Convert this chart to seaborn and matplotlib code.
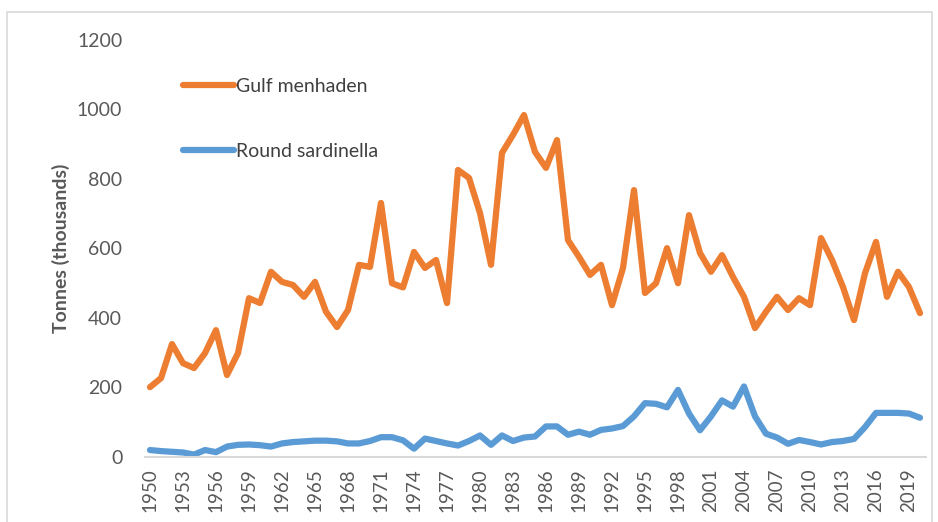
import numpy as np
import pandas as pd
import matplotlib
matplotlib.use("Agg")
import matplotlib.pyplot as plt
import seaborn as sns
from matplotlib.patches import Rectangle

## Data ##
years = list(range(1950, 2021))

gulf_menhaden = [
    201, 227, 325, 270, 256, 299, 365, 236, 299, 457,
    443, 533, 504, 495, 461, 504, 418, 374, 423, 553,
    547, 731, 500, 488, 590, 544, 567, 443, 826, 803,
    702, 553, 875, 927, 984, 878, 832, 912, 624, 576,
    524, 553, 437, 544, 768, 472, 500, 601, 500, 696,
    587, 533, 581, 518, 461, 371, 418, 461, 423, 457,
    437, 630, 567, 489, 394, 529, 619, 461, 533, 489,
    414,
]

round_sardinella = [
    20, 17, 15, 13, 7, 20, 14, 30, 35, 36,
    34, 30, 39, 43, 45, 47, 47, 45, 39, 39,
    46, 57, 57, 48, 24, 53, 46, 39, 33, 46,
    62, 35, 62, 46, 56, 59, 88, 88, 64, 73,
    64, 78, 82, 89, 117, 155, 153, 143, 193, 125,
    77, 117, 163, 145, 203, 117, 67, 56, 38, 49,
    43, 36, 43, 46, 52, 86, 127, 127, 127, 125,
    113,
]

series_names = ["Gulf menhaden", "Round sardinella"]
series_colors = ["#ED7D31", "#5B9BD5"]
x_ticks = list(range(1950, 2021, 3))
y_ticks = [0, 200, 400, 600, 800, 1000, 1200]

df = pd.DataFrame({
    "Year": years * 2,
    "Tonnes": gulf_menhaden + round_sardinella,
    "Species": [series_names[0]] * len(years) + [series_names[1]] * len(years),
})

## Plot ##
sns.set_style("white")
plt.rcParams["font.family"] = ["Lato", "DejaVu Sans"]

W, H = 938, 522
fig = plt.figure(figsize=(W / 100, H / 100), dpi=100)
ax = fig.add_axes([144.5 / W, 1 - 457 / H, (925.5 - 144.5) / W, (457 - 40) / H])

sns.lineplot(data=df, x="Year", y="Tonnes", hue="Species",
             palette=dict(zip(series_names, series_colors)),
             linewidth=4.5, ax=ax)
for line in ax.get_lines():
    line.set_solid_capstyle("round")
    line.set_solid_joinstyle("round")

ax.set_xlim(1949.5, 2020.5)
ax.set_ylim(0, 1200)
ax.set_xticks(x_ticks)
ax.set_xticklabels([str(y) for y in x_ticks], rotation=90)
ax.set_yticks(y_ticks)
ax.tick_params(axis="x", length=0, pad=8, labelsize=13.5, labelcolor="#595959")
ax.tick_params(axis="y", length=0, pad=16, labelsize=14, labelcolor="#595959")

for side in ["top", "right", "left"]:
    ax.spines[side].set_visible(False)
ax.spines["bottom"].set_color("#D9D9D9")
ax.spines["bottom"].set_linewidth(1.5)

ax.set_xlabel("")
ax.set_ylabel("Tonnes (thousands)", fontsize=14, fontweight="bold",
              color="#595959", labelpad=5)

leg = ax.legend(loc="upper left", bbox_to_anchor=(183 / W, 1 - 78 / H),
                bbox_transform=fig.transFigure, frameon=False, fontsize=14,
                handlelength=2.6, handletextpad=0.15, labelspacing=2.45,
                borderpad=0, borderaxespad=0)
for t in leg.get_texts():
    t.set_color("#404040")
for h in leg.get_lines():
    h.set_linewidth(4.5)
    h.set_solid_capstyle("round")

# outer chart border
fig.patches.append(Rectangle((7 / W, -0.05), (932 - 7) / W, 1 - 12 / H + 0.05,
                             transform=fig.transFigure, fill=False,
                             edgecolor="#D9D9D9", linewidth=1.2))

plt.savefig("out.png", dpi=100)
